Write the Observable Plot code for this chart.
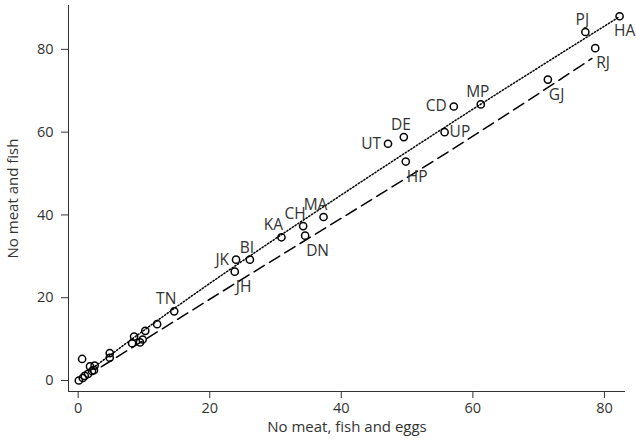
<!DOCTYPE html>
<html><head><meta charset="utf-8">
<script src="https://cdn.jsdelivr.net/npm/d3@7"></script>
<script src="https://cdn.jsdelivr.net/npm/@observablehq/plot@0.6"></script>
<style>body{margin:0;background:#fff;}</style>
</head><body><div id="chart"></div>
<script>
// Labeled states
const states = ["HA","PJ","RJ","GJ","MP","CD","UP","DE","UT","HP","MA","CH","DN","KA","BI","JK","JH","TN"];
const statesX = [82.3,77.1,78.6,71.4,61.2,57.1,55.7,49.5,47.1,49.8,37.3,34.2,34.5,30.9,26.1,24.0,23.8,14.6];
const statesY = [88.0,84.2,80.3,72.7,66.7,66.2,60.0,58.8,57.2,52.9,39.5,37.3,35.0,34.6,29.2,29.2,26.3,16.7];
const labelSide = ["S","N","SE","SE","N","W","E","N","W","SE","NW","NW","SE","NW","N","W","SE","NW"];
// Unlabeled states (small values)
const otherX = [0.1,0.7,1.0,1.5,0.6,1.8,2.5,2.1,2.4,4.8,4.8,8.2,8.5,9.4,9.8,10.2,12.0];
const otherY = [0.0,0.6,1.1,1.6,5.2,3.4,3.6,2.3,2.5,6.6,5.5,9.0,10.6,9.2,9.9,12.0,13.6];
// Smoothed lines
const dottedX = [2.2,14.5,41.4,58.1,82.3];
const dottedY = [3.0,17.3,46.3,63.6,87.9];
const dashedX = [3.5,21.7,63.7,78.1];
const dashedY = [3.3,21.3,62.8,77.8];
// Axes
const xTicks = [0,20,40,60,80];
const yTicks = [0,20,40,60,80];
const xDomain = [-1.47,83.2];
const yDomain = [-2.66,90.6];
const xTitle = "No meat, fish and eggs";
const yTitle = "No meat and fish";

const pts = states.map((s,i)=>({s, x:statesX[i], y:statesY[i], side:labelSide[i]}));
const others = otherX.map((x,i)=>({x, y:otherY[i]}));
const dotted = dottedX.map((x,i)=>({x, y:dottedY[i]}));
const dashed = dashedX.map((x,i)=>({x, y:dashedY[i]}));

const txtCol = "#333";
const fs = 15;
const tfs = 14.5;
const lfs = 15.5;
const sideOpts = {
  N:  {textAnchor:"middle", dx:-3, dy:-12},
  NW: {textAnchor:"middle", dx:-8, dy:-12},
  S:  {textAnchor:"middle", dx:5, dy:15},
  SE: {textAnchor:"start", dx:1, dy:15},
  W:  {textAnchor:"end", dx:-7, dy:0},
  E:  {textAnchor:"start", dx:5, dy:0}
};
const labelMarks = Object.entries(sideOpts).map(([k,o]) =>
  Plot.text(pts.filter(d=>d.side===k), {x:"x", y:"y", text:"s", fill:txtCol, fontSize:lfs, ...o}));

const chart = Plot.plot({
  width: 636, height: 448,
  marginLeft: 68, marginRight: 11, marginTop: 5, marginBottom: 57,
  style: {fontFamily: "'Open Sans', sans-serif", fontSize: fs + "px", background: "#fff", color: txtCol},
  x: {domain: xDomain, label: null},
  y: {domain: yDomain, label: null},
  marks: [
    Plot.ruleX([xDomain[0]], {stroke: txtCol, strokeWidth: 1}),
    Plot.ruleY([yDomain[0]], {stroke: txtCol, strokeWidth: 1}),
    Plot.axisX(xTicks, {tickSize: 7, tickPadding: 4, fontSize: tfs, stroke: txtCol, fill: txtCol, label: null}),
    Plot.axisY(yTicks, {tickSize: 7, tickPadding: 8, fontSize: tfs, stroke: txtCol, fill: txtCol, label: null}),
    Plot.line(dotted, {x:"x", y:"y", curve:"monotone-x", stroke:"#000", strokeWidth:1.5, strokeDasharray:"1.3,2"}),
    Plot.line(dashed, {x:"x", y:"y", curve:"monotone-x", stroke:"#000", strokeWidth:1.5, strokeDasharray:"12,6"}),
    Plot.dot(others, {x:"x", y:"y", r:3.6, stroke:"#000", strokeWidth:1.5, fill:"none"}),
    Plot.dot(pts, {x:"x", y:"y", r:3.6, stroke:"#000", strokeWidth:1.5, fill:"none"}),
    ...labelMarks,
    Plot.text([xTitle], {frameAnchor:"bottom", text: d=>d, dy: 40, fill: txtCol, fontSize: fs}),
    Plot.text([yTitle], {frameAnchor:"left", textAnchor:"middle", text: d=>d, rotate: -90, dx: -55, fill: txtCol, fontSize: fs})
  ]
});
document.getElementById("chart").appendChild(chart);
</script>
</body></html>
